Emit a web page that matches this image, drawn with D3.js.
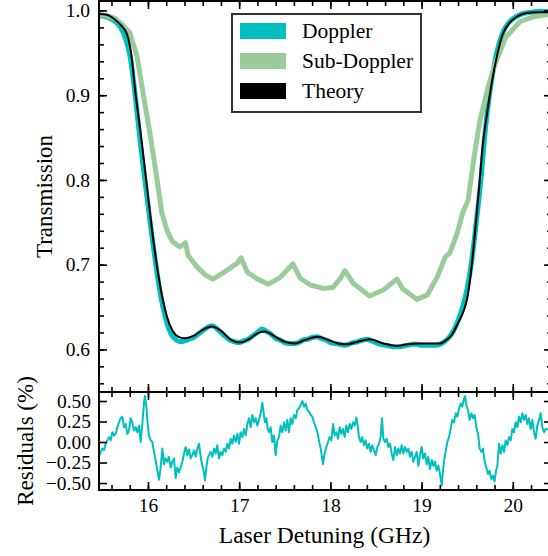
<!DOCTYPE html>
<html>
<head>
<meta charset="utf-8">
<script src="https://cdn.jsdelivr.net/npm/d3@7"></script>
<style>
  body { margin: 0; background: #fff; }
  svg { display: block; font-family: "Liberation Serif", "Times New Roman", serif; }
</style>
</head>
<body>
<svg id="chart" width="548" height="556"></svg>
<script>
// detuning (GHz), transmission
const theory = [
  [15.463, 0.996], [15.55, 0.995], [15.63, 0.99], [15.70, 0.983], [15.77, 0.972],
  [15.82, 0.946], [15.86, 0.905], [15.92, 0.855], [15.98, 0.80], [16.04, 0.745],
  [16.10, 0.697], [16.16, 0.66], [16.21, 0.638], [16.27, 0.622], [16.33, 0.615],
  [16.40, 0.613], [16.50, 0.616], [16.60, 0.623], [16.70, 0.627], [16.80, 0.622],
  [16.90, 0.612], [17.01, 0.608], [17.12, 0.613], [17.20, 0.619], [17.28, 0.621],
  [17.38, 0.616], [17.50, 0.609], [17.61, 0.607], [17.72, 0.611], [17.86, 0.615],
  [17.98, 0.611], [18.08, 0.607], [18.18, 0.606], [18.30, 0.609], [18.43, 0.612],
  [18.58, 0.607], [18.73, 0.604], [18.85, 0.606], [18.98, 0.607], [19.10, 0.607],
  [19.20, 0.607], [19.27, 0.611], [19.33, 0.617], [19.40, 0.631], [19.46, 0.645],
  [19.50, 0.660], [19.54, 0.69], [19.57, 0.72], [19.60, 0.755], [19.63, 0.79],
  [19.67, 0.84], [19.72, 0.88], [19.77, 0.915], [19.83, 0.948], [19.89, 0.972],
  [19.97, 0.986], [20.05, 0.993], [20.15, 0.997], [20.27, 0.998], [20.43, 0.998]
];

const doppler = [
  [15.463, 0.994], [15.52, 0.993], [15.58, 0.991], [15.64, 0.987], [15.70, 0.98],
  [15.75, 0.968], [15.80, 0.948], [15.84, 0.918], [15.88, 0.88], [15.92, 0.84],
  [15.96, 0.805], [16.00, 0.77], [16.05, 0.728], [16.10, 0.69], [16.15, 0.657],
  [16.20, 0.634], [16.25, 0.619], [16.30, 0.612], [16.35, 0.609], [16.40, 0.610],
  [16.45, 0.612], [16.50, 0.614], [16.55, 0.618], [16.60, 0.622], [16.65, 0.626],
  [16.70, 0.628], [16.75, 0.625], [16.80, 0.620], [16.85, 0.615], [16.90, 0.611],
  [16.95, 0.609], [17.00, 0.608], [17.05, 0.610], [17.10, 0.612], [17.15, 0.616],
  [17.20, 0.620], [17.25, 0.624], [17.30, 0.621], [17.35, 0.618], [17.40, 0.613],
  [17.45, 0.611], [17.50, 0.608], [17.55, 0.607], [17.60, 0.607], [17.65, 0.608],
  [17.70, 0.611], [17.75, 0.612], [17.80, 0.614], [17.85, 0.615], [17.90, 0.613],
  [17.95, 0.611], [18.00, 0.608], [18.05, 0.607], [18.10, 0.606], [18.15, 0.605],
  [18.20, 0.606], [18.25, 0.608], [18.30, 0.609], [18.35, 0.611], [18.40, 0.612],
  [18.45, 0.610], [18.50, 0.608], [18.55, 0.606], [18.60, 0.605], [18.65, 0.604],
  [18.70, 0.603], [18.75, 0.603], [18.80, 0.604], [18.85, 0.605], [18.90, 0.606],
  [18.95, 0.606], [19.00, 0.605], [19.05, 0.605], [19.10, 0.605], [19.15, 0.605],
  [19.20, 0.606], [19.25, 0.609], [19.30, 0.614], [19.35, 0.622], [19.40, 0.634],
  [19.45, 0.65], [19.50, 0.672], [19.55, 0.705], [19.60, 0.75], [19.65, 0.80],
  [19.70, 0.86], [19.75, 0.905], [19.80, 0.938], [19.85, 0.961], [19.90, 0.976],
  [19.95, 0.985], [20.00, 0.99], [20.10, 0.996], [20.20, 0.998], [20.30, 0.999],
  [20.43, 0.998]
];

const subDoppler = [
  [15.463, 0.995], [15.55, 0.994], [15.65, 0.99], [15.72, 0.983], [15.80, 0.974],
  [15.88, 0.946], [15.95, 0.90], [16.02, 0.856], [16.10, 0.80], [16.15, 0.762],
  [16.21, 0.74], [16.27, 0.727], [16.35, 0.721], [16.41, 0.726], [16.44, 0.711],
  [16.54, 0.697], [16.63, 0.688], [16.71, 0.683], [16.82, 0.69], [16.98, 0.702],
  [17.02, 0.708], [17.09, 0.691], [17.20, 0.683], [17.32, 0.677], [17.45, 0.685],
  [17.59, 0.701], [17.67, 0.684], [17.78, 0.676], [17.92, 0.672], [18.03, 0.673],
  [18.11, 0.684], [18.16, 0.693], [18.25, 0.678], [18.43, 0.663], [18.58, 0.670],
  [18.73, 0.683], [18.79, 0.672], [18.95, 0.659], [19.06, 0.664], [19.17, 0.685],
  [19.26, 0.709], [19.31, 0.714], [19.39, 0.737], [19.45, 0.761], [19.51, 0.776],
  [19.58, 0.83], [19.64, 0.87], [19.73, 0.91], [19.81, 0.938], [19.92, 0.968],
  [20.08, 0.987], [20.24, 0.993], [20.43, 0.996]
];

// detuning (GHz), residual (%)
const residuals = [
  [15.463, -0.18], [15.481, -0.12], [15.500, -0.08], [15.518, -0.10], [15.536, -0.02],
  [15.554, 0.02], [15.573, 0.06], [15.591, 0.02], [15.609, 0.12], [15.627, 0.08],
  [15.646, 0.10], [15.664, 0.18], [15.682, 0.24], [15.701, 0.29], [15.719, 0.31],
  [15.737, 0.18], [15.755, 0.22], [15.774, 0.10], [15.792, 0.14], [15.810, 0.29],
  [15.828, 0.24], [15.847, 0.14], [15.865, 0.18], [15.883, 0.12], [15.902, 0.20],
  [15.920, 0.00], [15.938, 0.22], [15.956, 0.47], [15.967, 0.56], [15.982, 0.43],
  [15.997, 0.22], [16.011, 0.08], [16.030, 0.02], [16.048, 0.00], [16.066, -0.12],
  [16.084, -0.22], [16.103, -0.35], [16.121, -0.46], [16.139, -0.31], [16.157, -0.08],
  [16.176, -0.27], [16.194, -0.20], [16.212, -0.24], [16.230, -0.18], [16.249, -0.31],
  [16.267, -0.24], [16.285, -0.20], [16.304, -0.44], [16.322, -0.31], [16.340, -0.37],
  [16.358, -0.31], [16.377, -0.24], [16.395, -0.14], [16.413, -0.06], [16.431, -0.16],
  [16.450, -0.09], [16.468, -0.20], [16.486, -0.16], [16.505, -0.10], [16.523, -0.18],
  [16.541, -0.08], [16.560, -0.02], [16.578, -0.18], [16.596, -0.29], [16.614, -0.37],
  [16.625, -0.47], [16.640, -0.31], [16.655, -0.20], [16.669, -0.16], [16.687, -0.12],
  [16.706, -0.18], [16.724, -0.08], [16.742, -0.14], [16.760, -0.04], [16.779, -0.20],
  [16.797, -0.12], [16.815, -0.16], [16.834, -0.08], [16.852, -0.12], [16.870, -0.02],
  [16.888, -0.08], [16.907, 0.04], [16.925, -0.02], [16.943, 0.08], [16.962, 0.00],
  [16.980, 0.10], [16.998, -0.02], [17.016, 0.12], [17.035, 0.06], [17.053, 0.16],
  [17.071, 0.08], [17.090, 0.22], [17.108, 0.29], [17.126, 0.18], [17.144, 0.33],
  [17.163, 0.24], [17.181, 0.29], [17.199, 0.20], [17.217, 0.27], [17.236, 0.35],
  [17.254, 0.48], [17.269, 0.35], [17.283, 0.24], [17.298, 0.29], [17.312, 0.16],
  [17.327, 0.12], [17.345, 0.18], [17.364, 0.00], [17.382, 0.08], [17.400, -0.16],
  [17.418, 0.02], [17.437, 0.06], [17.455, 0.20], [17.473, 0.12], [17.492, 0.24],
  [17.510, 0.14], [17.528, 0.27], [17.546, 0.12], [17.565, 0.29], [17.583, 0.22],
  [17.601, 0.33], [17.620, 0.29], [17.638, 0.39], [17.656, 0.41], [17.674, 0.45],
  [17.693, 0.50], [17.711, 0.43], [17.729, 0.47], [17.747, 0.39], [17.766, 0.37],
  [17.784, 0.33], [17.802, 0.31], [17.821, 0.24], [17.839, 0.18], [17.857, 0.12],
  [17.875, 0.02], [17.894, -0.08], [17.919, -0.27], [17.937, -0.14], [17.956, -0.06],
  [17.974, 0.00], [17.992, 0.06], [18.010, 0.02], [18.029, 0.22], [18.047, 0.08],
  [18.065, 0.12], [18.084, 0.04], [18.102, 0.18], [18.120, 0.10], [18.138, 0.16],
  [18.157, 0.06], [18.175, 0.20], [18.193, 0.12], [18.212, 0.22], [18.230, 0.16],
  [18.248, 0.24], [18.266, 0.20], [18.285, 0.30], [18.299, 0.20], [18.314, 0.06],
  [18.332, 0.00], [18.350, 0.06], [18.369, -0.04], [18.387, 0.02], [18.405, -0.08],
  [18.424, -0.02], [18.442, -0.12], [18.460, -0.04], [18.478, -0.10], [18.497, -0.16],
  [18.515, -0.06], [18.533, -0.02], [18.551, 0.06], [18.566, 0.29], [18.581, 0.04],
  [18.599, 0.00], [18.617, 0.04], [18.636, -0.06], [18.654, -0.02], [18.672, -0.14],
  [18.690, -0.22], [18.709, -0.06], [18.727, -0.16], [18.745, -0.08], [18.764, -0.14],
  [18.782, -0.04], [18.800, -0.14], [18.818, -0.06], [18.837, -0.12], [18.855, -0.08],
  [18.873, -0.18], [18.891, -0.12], [18.910, -0.24], [18.928, -0.18], [18.946, -0.12],
  [18.965, -0.29], [18.983, -0.16], [19.001, -0.06], [19.019, -0.20], [19.038, -0.14],
  [19.056, -0.27], [19.074, -0.18], [19.092, -0.33], [19.111, -0.22], [19.129, -0.29],
  [19.147, -0.24], [19.166, -0.35], [19.184, -0.29], [19.202, -0.39], [19.220, -0.53],
  [19.235, -0.35], [19.250, -0.20], [19.264, -0.12], [19.282, 0.00], [19.301, 0.06],
  [19.319, 0.16], [19.337, 0.27], [19.356, 0.24], [19.374, 0.35], [19.392, 0.31],
  [19.410, 0.41], [19.429, 0.47], [19.447, 0.43], [19.465, 0.53], [19.476, 0.56],
  [19.491, 0.45], [19.509, 0.39], [19.527, 0.27], [19.546, 0.35], [19.564, 0.29],
  [19.582, 0.33], [19.600, 0.18], [19.619, 0.10], [19.637, -0.08], [19.655, -0.12],
  [19.673, -0.08], [19.692, -0.24], [19.710, -0.31], [19.728, -0.39], [19.746, -0.35],
  [19.765, -0.45], [19.783, -0.41], [19.801, -0.48], [19.816, -0.35], [19.831, -0.29],
  [19.849, -0.02], [19.867, -0.14], [19.885, -0.04], [19.904, -0.12], [19.922, 0.02],
  [19.940, -0.04], [19.959, 0.06], [19.977, 0.02], [19.995, 0.16], [20.013, 0.12],
  [20.032, 0.24], [20.050, 0.18], [20.068, 0.31], [20.087, 0.24], [20.105, 0.35],
  [20.123, 0.27], [20.141, 0.33], [20.160, 0.22], [20.178, 0.29], [20.196, 0.16],
  [20.215, 0.27], [20.233, 0.12], [20.251, 0.04], [20.269, 0.20], [20.288, 0.27],
  [20.306, 0.35], [20.324, 0.18], [20.342, 0.12], [20.361, 0.16], [20.43, 0.14]
];

const xMajor = [16, 17, 18, 19, 20];
const yMainMajor = [0.6, 0.7, 0.8, 0.9, 1.0];
const yResMajor = [-0.5, -0.25, 0, 0.25, 0.5];
const legendLabels = ['Doppler', 'Sub-Doppler', 'Theory'];
const colors = { doppler: '#00bfbf', sub: '#99cc99', theory: '#000000' };

const svg = d3.select('#chart');
const left = 99, right = 552;
const mainTop = 1, mainBottom = 392, resBottom = 490;

const x = d3.scaleLinear().domain([15.463, 20.43]).range([left, right]);
const y = d3.scaleLinear().domain([0.5497, 1.0112]).range([mainBottom, mainTop]);
const yr = d3.scaleLinear().domain([-0.585, 0.61]).range([resBottom, mainBottom]);

const xMinor = d3.range(15.6, 20.41, 0.2);
const yMinor = d3.range(0.56, 1.001, 0.02);

// clip paths
const defs = svg.append('defs');
defs.append('clipPath').attr('id', 'clipMain').append('rect')
  .attr('x', left).attr('y', mainTop).attr('width', right - left).attr('height', mainBottom - mainTop);
defs.append('clipPath').attr('id', 'clipRes').append('rect')
  .attr('x', left).attr('y', mainBottom).attr('width', right - left).attr('height', resBottom - mainBottom);

const line = d3.line().x(d => x(d[0])).y(d => y(d[1]));
const smooth = d3.line().x(d => x(d[0])).y(d => y(d[1])).curve(d3.curveMonotoneX);
const resLine = d3.line().x(d => x(d[0])).y(d => yr(d[1]));

const gMain = svg.append('g').attr('clip-path', 'url(#clipMain)');
gMain.append('path').datum(doppler)
  .attr('fill', 'none').attr('stroke', colors.doppler).attr('stroke-width', 5)
  .attr('stroke-linejoin', 'round').attr('d', smooth);
gMain.append('path').datum(subDoppler)
  .attr('fill', 'none').attr('stroke', colors.sub).attr('stroke-width', 5)
  .attr('stroke-linejoin', 'round').attr('d', line);
gMain.append('path').datum(theory)
  .attr('fill', 'none').attr('stroke', colors.theory).attr('stroke-width', 2)
  .attr('d', smooth);

svg.append('g').attr('clip-path', 'url(#clipRes)')
  .append('path').datum(residuals)
  .attr('fill', 'none').attr('stroke', colors.doppler).attr('stroke-width', 2)
  .attr('stroke-linejoin', 'round').attr('d', resLine);

// axes helper: inward ticks
function ticks(axisFn, scale, pos, values, size, labels, fmt, pad) {
  const ax = axisFn(scale).tickValues(values).tickSizeInner(-size).tickSizeOuter(0)
    .tickPadding(pad || 8).tickFormat(labels ? fmt : '');
  const g = svg.append('g').attr('transform', pos).call(ax);
  g.select('.domain').remove();
  g.selectAll('.tick line').attr('stroke', '#000').attr('stroke-width', 1.6);
  g.selectAll('.tick text').attr('font-size', 19.5).attr('fill', '#000')
    .style('font-family', '"Liberation Serif", serif');
  return g;
}

// main panel ticks
ticks(d3.axisLeft, y, `translate(${left},0)`, yMainMajor, 8, true, d3.format('.1f'), 9);
ticks(d3.axisLeft, y, `translate(${left},0)`, yMinor, 5, false);
ticks(d3.axisRight, y, `translate(${right},0)`, yMainMajor, 8, false);
ticks(d3.axisRight, y, `translate(${right},0)`, yMinor, 5, false);
ticks(d3.axisTop, x, `translate(0,${mainTop})`, xMajor, 8, false);
ticks(d3.axisTop, x, `translate(0,${mainTop})`, xMinor, 5, false);
ticks(d3.axisBottom, x, `translate(0,${mainBottom})`, xMajor, 8, false);
ticks(d3.axisBottom, x, `translate(0,${mainBottom})`, xMinor, 5, false);

// residual panel ticks
ticks(d3.axisLeft, yr, `translate(${left},0)`, yResMajor, 8, true, d3.format('.2f'), 8);
ticks(d3.axisRight, yr, `translate(${right},0)`, yResMajor, 8, false);
ticks(d3.axisTop, x, `translate(0,${mainBottom})`, xMajor, 8, false);
ticks(d3.axisTop, x, `translate(0,${mainBottom})`, xMinor, 5, false);
ticks(d3.axisBottom, x, `translate(0,${resBottom})`, xMajor, 8, true, d3.format('d'), 8);
ticks(d3.axisBottom, x, `translate(0,${resBottom})`, xMinor, 5, false);

// frames
[[mainTop, mainBottom], [mainBottom, resBottom]].forEach(([t, b]) => {
  svg.append('rect').attr('x', left).attr('y', t).attr('width', right - left).attr('height', b - t)
    .attr('fill', 'none').attr('stroke', '#000').attr('stroke-width', 2);
});

// axis labels
svg.append('text').attr('x', (left + right) / 2 - 1).attr('y', 543)
  .attr('text-anchor', 'middle').attr('font-size', 23.5).text('Laser Detuning (GHz)');
svg.append('text').attr('transform', `translate(52,${(mainTop + mainBottom) / 2}) rotate(-90)`)
  .attr('text-anchor', 'middle').attr('font-size', 23).text('Transmission');
svg.append('text').attr('transform', `translate(33,${(mainBottom + resBottom) / 2}) rotate(-90)`)
  .attr('text-anchor', 'middle').attr('font-size', 23).text('Residuals (%)');

// legend
const lg = svg.append('g');
lg.append('rect').attr('x', 232).attr('y', 14).attr('width', 189).attr('height', 98)
  .attr('fill', '#fff').attr('stroke', '#333').attr('stroke-width', 2);
const legendColors = [colors.doppler, colors.sub, colors.theory];
legendLabels.forEach((name, i) => {
  lg.append('rect').attr('x', 240).attr('y', 23 + i * 30).attr('width', 46).attr('height', 16)
    .attr('fill', legendColors[i]);
  lg.append('text').attr('x', 302).attr('y', 38 + i * 30).attr('font-size', 21.5).text(name);
});
</script>
</body>
</html>
